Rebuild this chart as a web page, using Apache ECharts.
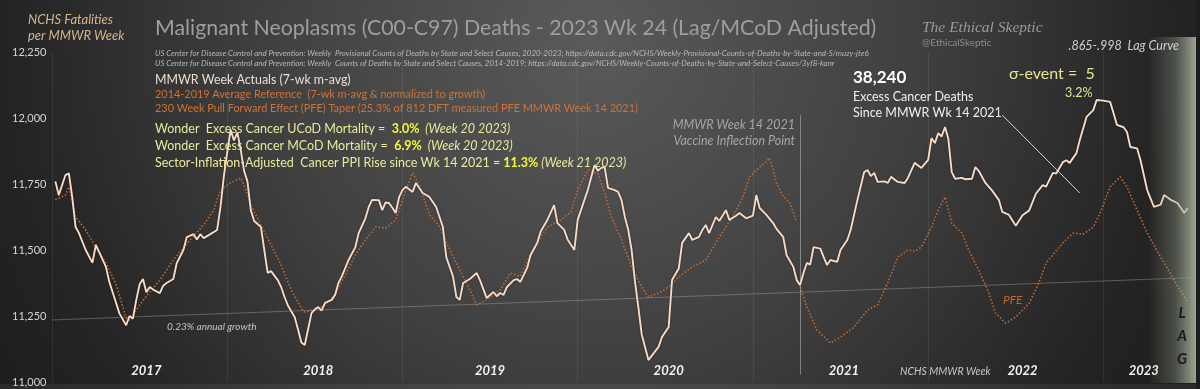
<!DOCTYPE html>
<html><head><meta charset="utf-8">
<script src="https://cdn.jsdelivr.net/npm/echarts@6/dist/echarts.min.js"></script>
<style>html,body{margin:0;padding:0;background:#1e1e1e}#c{width:1200px;height:389px}</style>
</head><body><div id="c"></div>
<script>
// ---- DATA (week index since 2017 MMWR Wk 1) ----
const weeksActual = [1,2,4,5,6,7,8,10,12,13,14,16,17,19,20,22,23,24,25,26,27,28,29,30,32,33,34,36,37,39,40,42,43,44,45,47,49,50,51,52,53,54,55,56,57,58,59,60,62,63,64,65,67,68,69,70,72,73,74,75,76,77,78,79,80,81,83,84,85,86,88,90,91,93,94,95,97,98,99,100,101,102,103,104,105,107,108,110,112,114,116,117,119,120,121,122,124,126,127,129,131,132,133,134,135,137,138,139,141,142,144,145,147,149,150,152,153,155,156,158,159,161,162,163,164,165,167,168,169,170,171,172,173,174,175,177,178,180,181,183,184,186,187,189,190,192,193,194,195,197,198,200,201,203,204,206,208,209,210,212,214,215,217,218,220,221,222,223,224,225,226,228,229,230,231,233,234,236,237,239,241,242,243,244,245,247,248,249,251,253,254,256,258,260,261,262,263,264,265,266,267,268,270,271,273,274,275,277,279,281,282,284,286,288,290,292,294,295,297,298,300,301,302,304,305,307,309,310,312,314,315,316,318,319,320,322,323,325,327,329,330,332,334,336,337];
const valuesActual = [11760,11708,11784,11790,11701,11587,11564,11500,11451,11519,11492,11436,11380,11300,11260,11215,11250,11240,11310,11370,11390,11340,11360,11350,11337,11365,11375,11390,11450,11500,11549,11560,11540,11560,11545,11560,11576,11663,11780,11870,11955,11915,11945,11880,11800,11760,11650,11610,11587,11500,11413,11420,11386,11360,11322,11290,11246,11200,11150,11140,11200,11261,11275,11284,11270,11300,11311,11330,11375,11400,11462,11510,11564,11620,11663,11690,11689,11651,11680,11678,11660,11640,11700,11727,11740,11720,11754,11716,11701,11663,11587,11473,11400,11322,11311,11375,11390,11413,11386,11318,11341,11325,11337,11330,11360,11386,11390,11379,11432,11480,11527,11570,11614,11670,11602,11576,11540,11500,11614,11690,11727,11822,11800,11811,11814,11735,11727,11720,11689,11625,11576,11500,11380,11284,11180,11083,11100,11133,11170,11208,11386,11430,11527,11564,11538,11550,11576,11595,11564,11625,11610,11651,11614,11630,11640,11620,11630,11708,11659,11633,11602,11580,11549,11480,11436,11386,11367,11413,11451,11445,11511,11505,11473,11443,11462,11455,11500,11538,11576,11689,11795,11803,11780,11792,11758,11760,11754,11777,11758,11754,11773,11830,11811,11841,11924,11905,11943,11930,11966,11920,11795,11770,11773,11768,11770,11814,11800,11754,11725,11689,11644,11633,11592,11632,11650,11714,11746,11740,11792,11790,11833,11840,11830,11867,11917,12004,12030,12068,12066,12061,12019,11974,11965,11947,11890,11885,11841,11727,11663,11672,11708,11690,11678,11640,11659];

const weeksRef = [1,4,5,7,10,13,16,19,22,23,26,29,32,36,41,45,48,50,53,56,57,59,62,65,68,71,74,75,78,81,84,87,90,93,96,99,102,105,107,109,112,115,117,121,125,126,129,133,136,139,143,147,151,154,156,159,162,164,166,169,172,175,177,180,183,186,190,194,198,202,205,207,210,213,215,217,219,221];
const valuesRef = [11690,11708,11739,11625,11576,11511,11451,11370,11242,11235,11292,11341,11386,11462,11538,11595,11651,11727,11754,11773,11746,11670,11595,11519,11443,11348,11280,11265,11273,11292,11330,11405,11481,11538,11587,11583,11614,11727,11792,11746,11633,11590,11530,11424,11322,11292,11311,11348,11413,11400,11511,11587,11614,11644,11727,11803,11790,11716,11625,11538,11436,11360,11322,11337,11360,11398,11436,11462,11549,11625,11700,11777,11814,11848,11754,11701,11678,11606];

const weeksPFE = [222,223,224,227,231,234,238,242,245,248,251,254,256,258,261,263,265,267,270,272,275,278,280,283,286,290,293,295,300,303,306,309,311,314,317,319,322,325,329,333,336,337];
const valuesPFE = [11360,11322,11284,11197,11148,11170,11208,11273,11292,11375,11473,11500,11495,11511,11587,11651,11701,11602,11564,11500,11424,11337,11261,11223,11246,11299,11380,11451,11527,11564,11560,11587,11640,11739,11777,11739,11651,11564,11473,11386,11322,11300];

const trendWeeks = [0, 338];
const trendValues = [11235, 11395];
const vaccineWeek = 222;
const vaccineSpan = [12010, 11028];
const pointerWeeks = [282, 305];
const pointerValues = [12011, 11716];

const yearLabels = ['2017','2018','2019','2020','2021','2022','2023'];
const yearLabelWeeks = [28, 79, 130, 183, 235, 288, 324];
const yMin = 11000, yMax = 12250, yStep = 250;
const weekMax = 338, yearStep = 52;

// ---- CHART ----
const chart = echarts.init(document.getElementById('c'), null, {renderer:'canvas'});
const F = 'Lato';
function T(x, y, text, st, extra) {
  return Object.assign({type:'text', x:x, y:y, z:100, silent:true,
    style:Object.assign({text:text, fontFamily:F, fontSize:12, fill:'#ddd', verticalAlign:'middle', align:'left'}, st)}, extra||{});
}
const pale = '#e9e99c', bright = '#f7f73a', orange = '#cf7338';
const richW = {a:{fontFamily:F,fontSize:12.5,fill:pale},b:{fontFamily:F,fontSize:12.5,fontWeight:'bold',fill:bright},c:{fontFamily:F,fontSize:12.5,fontStyle:'italic',fill:pale}};
const graphics = [
  {type:'rect', z:-100, silent:true, shape:{x:0,y:0,width:1200,height:389},
   style:{fill:{type:'radial', x:590, y:40, r:720, global:true,
     colorStops:[{offset:0,color:'#5a5a5a'},{offset:0.45,color:'#404040'},{offset:0.8,color:'#242424'},{offset:1,color:'#1c1c1c'}]}}},
  {type:'rect', z:-99, silent:true, shape:{x:0,y:384,width:1200,height:5}, style:{fill:'rgba(255,255,255,0.06)'}},
  {type:'rect', z:90, silent:true, shape:{x:1148,y:37,width:48,height:346},
   style:{fill:{type:'linear', x:0,y:0,x2:1,y2:0,
     colorStops:[{offset:0,color:'rgba(150,160,140,0)'},{offset:0.55,color:'rgba(150,160,140,0.35)'},{offset:1,color:'rgba(178,188,166,0.85)'}]}}},
  {type:'rect', z:91, silent:true, shape:{x:1196,y:0,width:4,height:389}, style:{fill:'#1d1d1d'}},
  T(28, 20, 'NCHS Fatalities', {fontSize:13, fontStyle:'italic', fill:'#d6b48c'}),
  T(28, 36, 'per MMWR Week', {fontSize:13, fontStyle:'italic', fill:'#d6b48c'}),
  T(155, 28, 'Malignant Neoplasms (C00-C97) Deaths - 2023 Wk 24 (Lag/MCoD Adjusted)', {fontSize:21.3, fill:'#9e9e9e'}),
  T(155, 53, 'US Center for Disease Control and Prevention: Weekly  Provisional Counts of Deaths by State and Select Causes, 2020-2023; https://data.cdc.gov/NCHS/Weekly-Provisional-Counts-of-Deaths-by-State-and-S/muzy-jte6', {fontSize:7.9, fontStyle:'italic', fill:'#b8b8b8'}),
  T(155, 63, 'US Center for Disease Control and Prevention: Weekly  Counts of Deaths by State and Select Causes, 2014-2019; https://data.cdc.gov/NCHS/Weekly-Counts-of-Deaths-by-State-and-Select-Causes/3yf8-kanr', {fontSize:7.9, fontStyle:'italic', fill:'#b8b8b8'}),
  T(155, 80, 'MMWR Week Actuals (7-wk m-avg)', {fontSize:12.4, fill:'#eadcd0'}),
  T(155, 94, '2014-2019 Average Reference  (7-wk m-avg & normalized to growth)', {fontSize:10.9, fill:orange}),
  T(155, 108, '230 Week Pull Forward Effect (PFE) Taper (25.3% of 812 DFT measured PFE MMWR Week 14 2021)', {fontSize:10.9, fill:orange}),
  T(155, 129, '{a|Wonder  Excess Cancer UCoD Mortality =  }{b|3.0%}{c|  (Week 20 2023)}', {rich:richW}),
  T(155, 146, '{a|Wonder  Excess Cancer MCoD Mortality =  }{b|6.9%}{c|  (Week 20 2023)}', {rich:richW}),
  T(155, 163, '{a|Sector-Inflation-Adjusted  Cancer PPI Rise since Wk 14 2021 = }{b|11.3%}{c| (Week 21 2023)}', {rich:richW}),
  T(795, 125, 'MMWR Week 14 2021', {fontSize:12.5, fontStyle:'italic', fill:'#a6a6a6', align:'right'}),
  T(795, 141, 'Vaccine Inflection Point', {fontSize:12.5, fontStyle:'italic', fill:'#a6a6a6', align:'right'}),
  T(922, 28, 'The Ethical Skeptic', {fontSize:15.5, fontStyle:'italic', fontFamily:'Liberation Serif', fill:'#9a9a9a'}),
  T(922, 43, '@EthicalSkeptic', {fontSize:10, fill:'#8c8c8c'}),
  T(1179, 46, '.865-.998  Lag Curve', {fontSize:12.5, fontStyle:'italic', fill:'#cfcfcf', align:'right'}),
  T(853, 78, '38,240', {fontSize:17, fontWeight:'bold', fill:'#ffffff'}),
  T(853, 97, 'Excess Cancer Deaths', {fontSize:12.5, fill:'#eeeeee'}),
  T(853, 113, 'Since MMWR Wk 14 2021', {fontSize:12.5, fill:'#eeeeee'}),
  T(1009, 74, 'σ-event =  5', {fontSize:16, fill:'#e4e494'}),
  T(1065, 93, '3.2%', {fontSize:12.5, fill:'#e4e494'}),
  T(167, 327, '0.23% annual growth', {fontSize:10, fontStyle:'italic', fill:'#c4c4c4'}),
  T(1003, 300, 'PFE', {fontSize:12, fontStyle:'italic', fill:'#c9652b'}),
  T(900, 372, 'NCHS MMWR Week', {fontSize:10.5, fontStyle:'italic', fill:'#c8c8c8'}),
  T(1182, 313, 'L', {fontSize:15, fontStyle:'italic', fontWeight:'bold', fill:'#1a1a1a', align:'center'}),
  T(1182, 336, 'A', {fontSize:15, fontStyle:'italic', fontWeight:'bold', fill:'#1a1a1a', align:'center'}),
  T(1182, 359, 'G', {fontSize:15, fontStyle:'italic', fontWeight:'bold', fill:'#1a1a1a', align:'center'})
];

const pairs = (ws, vs) => ws.map((w, i) => [w, vs[i]]);

chart.setOption({
  animation:false,
  backgroundColor:'transparent',
  grid:{left:52, right:9, top:52, bottom:7, containLabel:false},
  xAxis:{type:'value', min:0, max:weekMax, interval:yearStep,
    axisLine:{show:false}, axisTick:{show:false},
    splitLine:{show:true, lineStyle:{color:'rgba(255,255,255,0.075)', width:1}},
    axisLabel:{show:true, inside:true, margin:5, customValues:yearLabelWeeks,
      formatter:(v)=>{const i=yearLabelWeeks.indexOf(Math.round(v)); return i>=0?yearLabels[i]:'';},
      color:'#f2f2f2', fontFamily:F, fontSize:13, fontWeight:'bold', fontStyle:'italic'}},
  yAxis:{type:'value', min:yMin, max:yMax, interval:yStep,
    axisLine:{show:false}, axisTick:{show:false}, splitLine:{show:false},
    axisLabel:{align:'left', margin:40, color:'#d6d6d6', fontFamily:F, fontSize:11,
      formatter:(v)=>v.toLocaleString('en-US')}},
  graphic:graphics,
  series:[
    {name:'guides', type:'line', data:[], silent:true,
     markLine:{silent:true, symbol:['none','none'], label:{show:false}, animation:false,
       data:[
         [{coord:[trendWeeks[0], trendValues[0]], lineStyle:{color:'rgba(200,175,160,0.38)', width:1, type:'solid'}},
          {coord:[trendWeeks[1], trendValues[1]]}],
         [{coord:[vaccineWeek, vaccineSpan[0]], lineStyle:{color:'rgba(215,215,215,0.45)', width:1, type:'solid'}},
          {coord:[vaccineWeek, vaccineSpan[1]]}],
         [{coord:[pointerWeeks[0], pointerValues[0]], lineStyle:{color:'rgba(235,235,235,0.85)', width:1, type:'solid'}},
          {coord:[pointerWeeks[1], pointerValues[1]]}]
       ]}},
    {name:'2014-2019 Average Reference', type:'line', data:pairs(weeksRef, valuesRef), showSymbol:false, smooth:false,
     lineStyle:{color:'#c46a30', width:1.6, type:[1.5,2]}, z:3},
    {name:'PFE', type:'line', data:pairs(weeksPFE, valuesPFE), showSymbol:false,
     lineStyle:{color:'#c46a30', width:1.6, type:[1.5,2]}, z:3},
    {name:'MMWR Week Actuals', type:'line', data:pairs(weeksActual, valuesActual), showSymbol:false,
     lineStyle:{color:'#f8dac6', width:1.9, shadowColor:'rgba(0,0,0,0.5)', shadowBlur:2}, z:4}
  ]
});
</script></body></html>
